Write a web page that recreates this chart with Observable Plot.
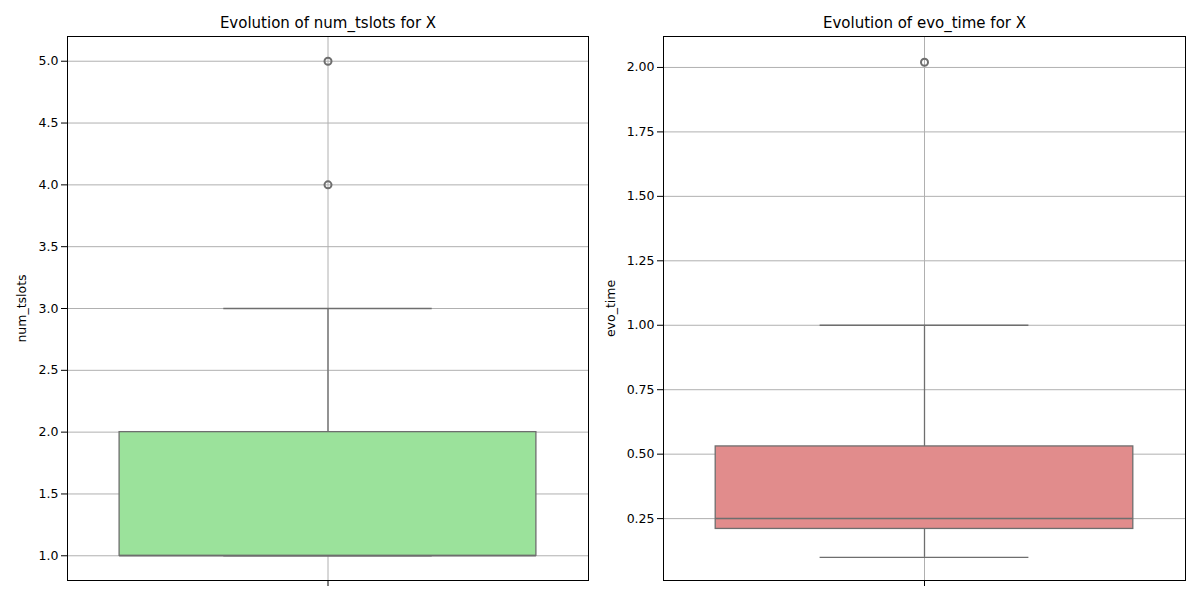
<!DOCTYPE html>
<html>
<head>
<meta charset="utf-8">
<script src="https://cdn.jsdelivr.net/npm/d3@7"></script>
<script src="https://cdn.jsdelivr.net/npm/@observablehq/plot@0.6"></script>
<style>
  body { margin: 0; background: #fff; font-family: "DejaVu Sans", sans-serif; }
  #wrap { display: flex; width: 1200px; height: 600px; }
</style>
</head>
<body>
<div id="wrap"><div id="left"></div><div id="right"></div></div>
<script>
// Box summaries
const tslotsStats = {q1: 1, median: 1, q3: 2, lo: 1, hi: 3};
const tslotsOutliers = [4, 5];
const evoStats = {q1: 0.21, median: 0.25, q3: 0.53, lo: 0.10, hi: 1.0};
const evoOutliers = [2.02];

const tslotsTicks = [1.0, 1.5, 2.0, 2.5, 3.0, 3.5, 4.0, 4.5, 5.0];
const evoTicks = [0.25, 0.5, 0.75, 1.0, 1.25, 1.5, 1.75, 2.0];

function drawBox(containerId, stats, outliers, cfg) {
  const line = "#6e6e6e";
  const chart = Plot.plot({
    width: 600,
    height: 600,
    marginLeft: cfg.marginLeft,
    marginRight: cfg.marginRight,
    marginTop: 36,
    marginBottom: 20,
    style: {fontFamily: "DejaVu Sans, sans-serif", fontSize: "12.5px", color: "#000", overflow: "visible"},
    x: {domain: [-0.5, 0.5], ticks: [0], tickFormat: () => "", label: null, grid: true},
    y: {
      domain: cfg.domain, ticks: cfg.ticks, tickFormat: cfg.fmt, grid: true,
      label: cfg.label, labelAnchor: "center", labelArrow: "none", labelOffset: cfg.labelOffset
    },
    marks: [
      Plot.ruleX([stats], {x: 0, y1: "lo", y2: "q1", stroke: line, strokeWidth: 1.3}),
      Plot.ruleX([stats], {x: 0, y1: "q3", y2: "hi", stroke: line, strokeWidth: 1.3}),
      Plot.ruleY([stats], {y: "lo", x1: -0.2, x2: 0.2, stroke: line, strokeWidth: 1.3}),
      Plot.ruleY([stats], {y: "hi", x1: -0.2, x2: 0.2, stroke: line, strokeWidth: 1.3}),
      Plot.rect([stats], {x1: -0.4, x2: 0.4, y1: "q1", y2: "q3", fill: cfg.fill, stroke: line, strokeWidth: 1.3}),
      Plot.ruleY([stats], {y: "median", x1: -0.4, x2: 0.4, stroke: line, strokeWidth: 1.5}),
      Plot.dot(outliers, {x: 0, y: d => d, r: 3.5, stroke: line, strokeWidth: 2, fill: "none"}),
      Plot.frame({stroke: "#000"}),
      Plot.text([cfg.title], {frameAnchor: "top", dy: -19, fontSize: 15, fill: "#000"})
    ]
  });
  chart.querySelectorAll("[aria-label='y-grid'] line, [aria-label='x-grid'] line").forEach(l => {
    l.setAttribute("stroke", "#b0b0b0"); l.setAttribute("stroke-opacity", "1");
  });
  document.getElementById(containerId).appendChild(chart);
}

drawBox("left", tslotsStats, tslotsOutliers, {
  marginLeft: 67, marginRight: 12, domain: [0.8, 5.2], ticks: tslotsTicks,
  fmt: d3.format(".1f"), label: "num_tslots", labelOffset: 50,
  fill: "#9be29b", title: "Evolution of num_tslots for X"
});
drawBox("right", evoStats, evoOutliers, {
  marginLeft: 63, marginRight: 15, domain: [0.01, 2.12], ticks: evoTicks,
  fmt: d3.format(".2f"), label: "evo_time", labelOffset: 57,
  fill: "#e18c8c", title: "Evolution of evo_time for X"
});
</script>
</body>
</html>
